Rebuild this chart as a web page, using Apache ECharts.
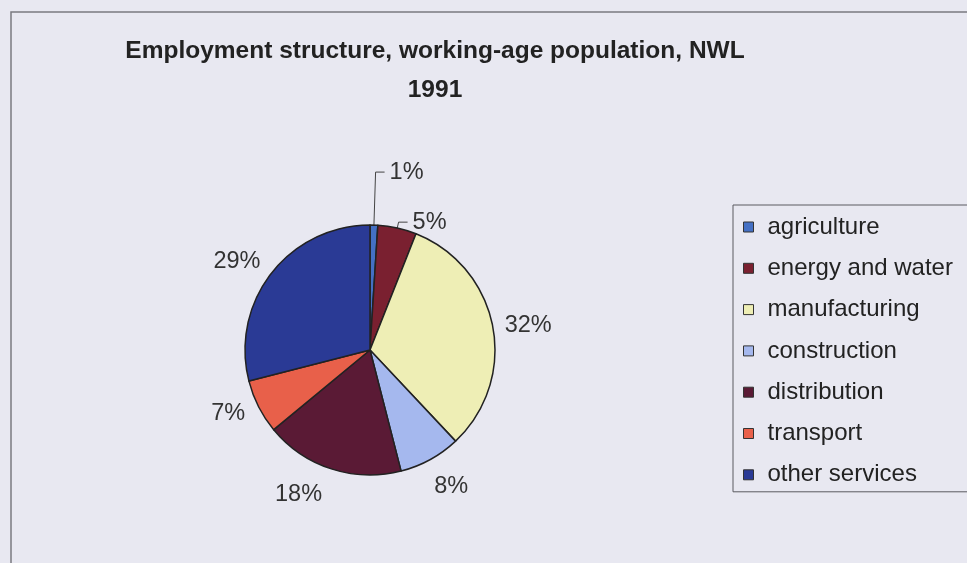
<!DOCTYPE html>
<html>
<head>
<meta charset="utf-8">
<script src="https://cdn.jsdelivr.net/npm/echarts@6/dist/echarts.min.js"></script>
<style>
  html, body { margin: 0; padding: 0; background: #e8e8f1; }
  #main { width: 967px; height: 563px; }
</style>
</head>
<body>
<div id="main"></div>
<script>
// sectors of the working-age population, NWL 1991 (percent)
var sectors = ['agriculture', 'energy and water', 'manufacturing', 'construction',
               'distribution', 'transport', 'other services'];
var shares = [1, 5, 32, 8, 18, 7, 29];
var colours = ['#4470c4', '#7a2030', '#eeeeb5', '#a5b8ee', '#5a1a35', '#e8604a', '#2a3a95'];

// leader line lengths, used only to place the percent labels like the original
var lineLen = [53, 6, 6, 31, 27, 14, 20];
var lineLen2 = [9, 9, 1, -16, -4, -4, -10];
var showLine = [true, true, false, false, false, false, false];

var pieData = sectors.map(function (name, i) {
    return {
        name: name,
        value: shares[i],
        itemStyle: { color: colours[i] },
        labelLine: { show: showLine[i], length: lineLen[i], length2: lineLen2[i] }
    };
});

var myChart = echarts.init(document.getElementById('main'));
var option = {
    backgroundColor: '#e8e8f1',
    animation: false,
    title: {
        text: 'Employment structure, working-age population, NWL\n1991',
        left: 430,
        top: 27,
        textAlign: 'center',
        textStyle: {
            fontFamily: 'Liberation Sans',
            fontSize: 24.5,
            fontWeight: 'bold',
            color: '#222',
            lineHeight: 39
        }
    },
    graphic: [{
        type: 'rect',
        shape: { x: 11, y: 12, width: 1000, height: 600 },
        style: { fill: 'none', stroke: '#7a7a80', lineWidth: 1.5 },
        silent: true
    }],
    legend: {
        orient: 'vertical',
        left: 733,
        top: 205,
        padding: [10, 40, 5, 10],
        itemGap: 17.3,
        itemWidth: 10,
        itemHeight: 10,
        icon: 'rect',
        borderColor: '#5a5a60',
        borderWidth: 1,
        itemStyle: { borderColor: '#333', borderWidth: 1 },
        textStyle: {
            fontFamily: 'Liberation Sans',
            fontSize: 24,
            lineHeight: 24,
            color: '#222',
            padding: [0, 0, 0, 9]
        },
        data: sectors
    },
    series: [{
        type: 'pie',
        center: [370, 350],
        radius: 125,
        startAngle: 90,
        clockwise: true,
        avoidLabelOverlap: false,
        itemStyle: { borderColor: '#222', borderWidth: 1.5 },
        label: {
            show: true,
            position: 'outside',
            formatter: '{c}%',
            fontFamily: 'Liberation Sans',
            fontSize: 23.5,
            color: '#333'
        },
        labelLine: {
            lineStyle: { color: '#444', width: 1 },
            smooth: false
        },
        emphasis: { disabled: true },
        data: pieData
    }]
};
myChart.setOption(option);
</script>
</body>
</html>
